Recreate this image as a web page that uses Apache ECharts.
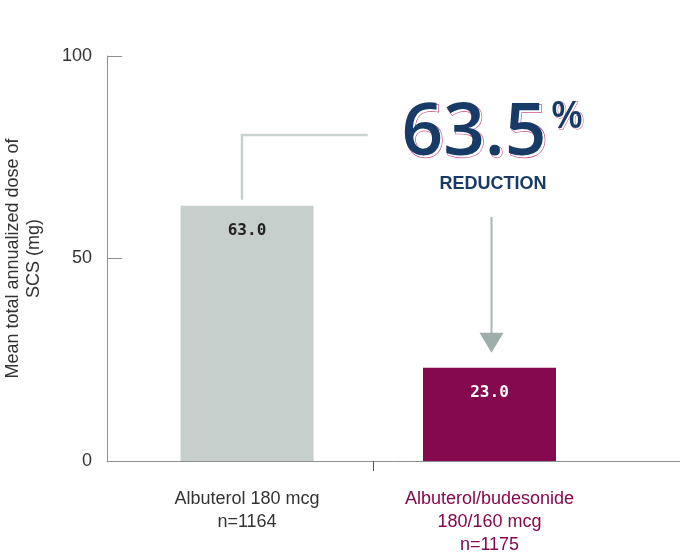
<!DOCTYPE html>
<html>
<head>
<meta charset="utf-8">
<script src="https://cdn.jsdelivr.net/npm/echarts@6/dist/echarts.min.js"></script>
<style>
html, body { margin: 0; padding: 0; background: #fff; }
#chart { width: 680px; height: 556px; }
</style>
</head>
<body>
<div id="chart"></div>
<script>
// data
var categories = ['Albuterol 180 mcg\nn=1164', 'Albuterol/budesonide\n180/160 mcg\nn=1175'];
var values = [63.0, 23.0];
var barColors = ['#c6cfcc', '#85094f'];
var categoryColors = ['#333333', '#85094f'];
var valueColors = ['#222222', '#ffffff'];
var yMin = 0, yMax = 100, yStep = 50;
var reductionValue = '63.5';
var reductionLabel = 'REDUCTION';
var yTitle = 'Mean total annualized dose of\nSCS (mg)';

var NAVY = '#173a66';
var PINK = '#c4457e';
var AXIS = '#8e8e8e';

var chart = echarts.init(document.getElementById('chart'));

var option = {
    backgroundColor: '#ffffff',
    animation: false,
    textStyle: { fontFamily: 'Liberation Sans' },
    grid: [
        // frame: y axis + full-width baseline
        { left: 107, right: 0, top: 56, bottom: 95, outerBoundsMode: 'none', containLabel: false },
        // bars
        { left: 125.75, width: 485, top: 56, bottom: 95, outerBoundsMode: 'none', containLabel: false }
    ],
    xAxis: [
        {
            type: 'value', gridIndex: 0, min: 0, max: 1,
            axisLine: { show: true, lineStyle: { color: AXIS, width: 1 } },
            axisTick: { show: true, customValues: [0.4642], length: 10, lineStyle: { color: '#555', width: 1 } },
            axisLabel: { show: false },
            splitLine: { show: false }
        },
        {
            type: 'category', gridIndex: 1,
            data: categories.map((c, i) => ({ value: c, textStyle: { color: categoryColors[i] } })),
            axisLine: { show: false },
            axisTick: { show: false },
            axisLabel: { fontSize: 18, lineHeight: 23, margin: 27, color: '#333', fontFamily: 'Liberation Sans' }
        }
    ],
    yAxis: [
        {
            type: 'value', gridIndex: 0, min: yMin, max: yMax, interval: yStep,
            name: yTitle,
            nameLocation: 'middle',
            nameGap: 62,
            nameTextStyle: { fontSize: 18, lineHeight: 21, color: '#333', fontFamily: 'Liberation Sans' },
            axisLine: { show: true, lineStyle: { color: AXIS, width: 1 } },
            axisTick: { show: true, inside: true, length: 15, lineStyle: { color: AXIS } },
            axisLabel: { fontSize: 18, color: '#333', margin: 15 },
            splitLine: { show: false }
        },
        {
            type: 'value', gridIndex: 1, min: yMin, max: yMax, show: false
        }
    ],
    series: [{
        type: 'bar',
        xAxisIndex: 1,
        yAxisIndex: 1,
        barWidth: 133,
        data: values.map((v, i) => ({
            value: v,
            itemStyle: { color: barColors[i] },
            label: { color: valueColors[i] }
        })),
        label: {
            show: true,
            position: 'insideTop',
            distance: 17,
            formatter: p => p.value.toFixed(1),
            fontFamily: 'DejaVu Sans Mono',
            fontWeight: 'bold',
            fontSize: 16
        }
    }]
};

chart.setOption(option);

// annotation: connector, arrow and the reduction callout, anchored on the bar tops
var top1 = chart.convertToPixel({ xAxisIndex: 1, yAxisIndex: 1 }, [0, values[0]]);
var top2 = chart.convertToPixel({ xAxisIndex: 1, yAxisIndex: 1 }, [1, values[1]]);
var midX = (top1[0] + top2[0]) / 2 - 0.5;
var elbowY = chart.convertToPixel({ xAxisIndex: 1, yAxisIndex: 1 }, [0, 80.5])[1];
var cx = 474;
var cy = 134;

chart.setOption({
    graphic: [
        {
            type: 'polyline', silent: true,
            shape: { points: [[top1[0] - 5, top1[1] - 6], [top1[0] - 5, elbowY], [midX, elbowY]] },
            style: { stroke: '#c9d2cf', lineWidth: 2.5, fill: null }
        },
        {
            type: 'line', silent: true,
            shape: { x1: top2[0] + 2, y1: 217, x2: top2[0] + 2, y2: top2[1] - 30 },
            style: { stroke: '#aab7b4', lineWidth: 2 }
        },
        {
            type: 'polygon', silent: true,
            shape: { points: [[top2[0] - 10, top2[1] - 35], [top2[0] + 14, top2[1] - 35], [top2[0] + 2, top2[1] - 15]] },
            style: { fill: '#9eaeaa' }
        },
        // pink offset outline behind the number
        {
            type: 'text', silent: true, x: cx + 1.8, y: cy + 1.8,
            style: {
                text: reductionValue, fill: '#ffffff', stroke: PINK, lineWidth: 1.3,
                font: '600 73px "Open Sans"', align: 'center', verticalAlign: 'middle'
            }
        },
        {
            type: 'text', silent: true, x: cx, y: cy,
            style: {
                text: reductionValue, fill: NAVY,
                font: '600 73px "Open Sans"', align: 'center', verticalAlign: 'middle'
            }
        },
        {
            type: 'text', silent: true, x: 552.5, y: 118.5,
            style: {
                text: '%', fill: '#ffffff', stroke: PINK, lineWidth: 1,
                font: '600 37px "Open Sans"', align: 'left', verticalAlign: 'middle'
            }
        },
        {
            type: 'text', silent: true, x: 551, y: 117,
            style: {
                text: '%', fill: NAVY,
                font: '600 37px "Open Sans"', align: 'left', verticalAlign: 'middle'
            }
        },
        {
            type: 'text', silent: true, x: 493, y: 184,
            style: {
                text: reductionLabel, fill: NAVY,
                font: 'bold 18px "Liberation Sans"', align: 'center', verticalAlign: 'middle'
            }
        }
    ]
});
</script>
</body>
</html>
